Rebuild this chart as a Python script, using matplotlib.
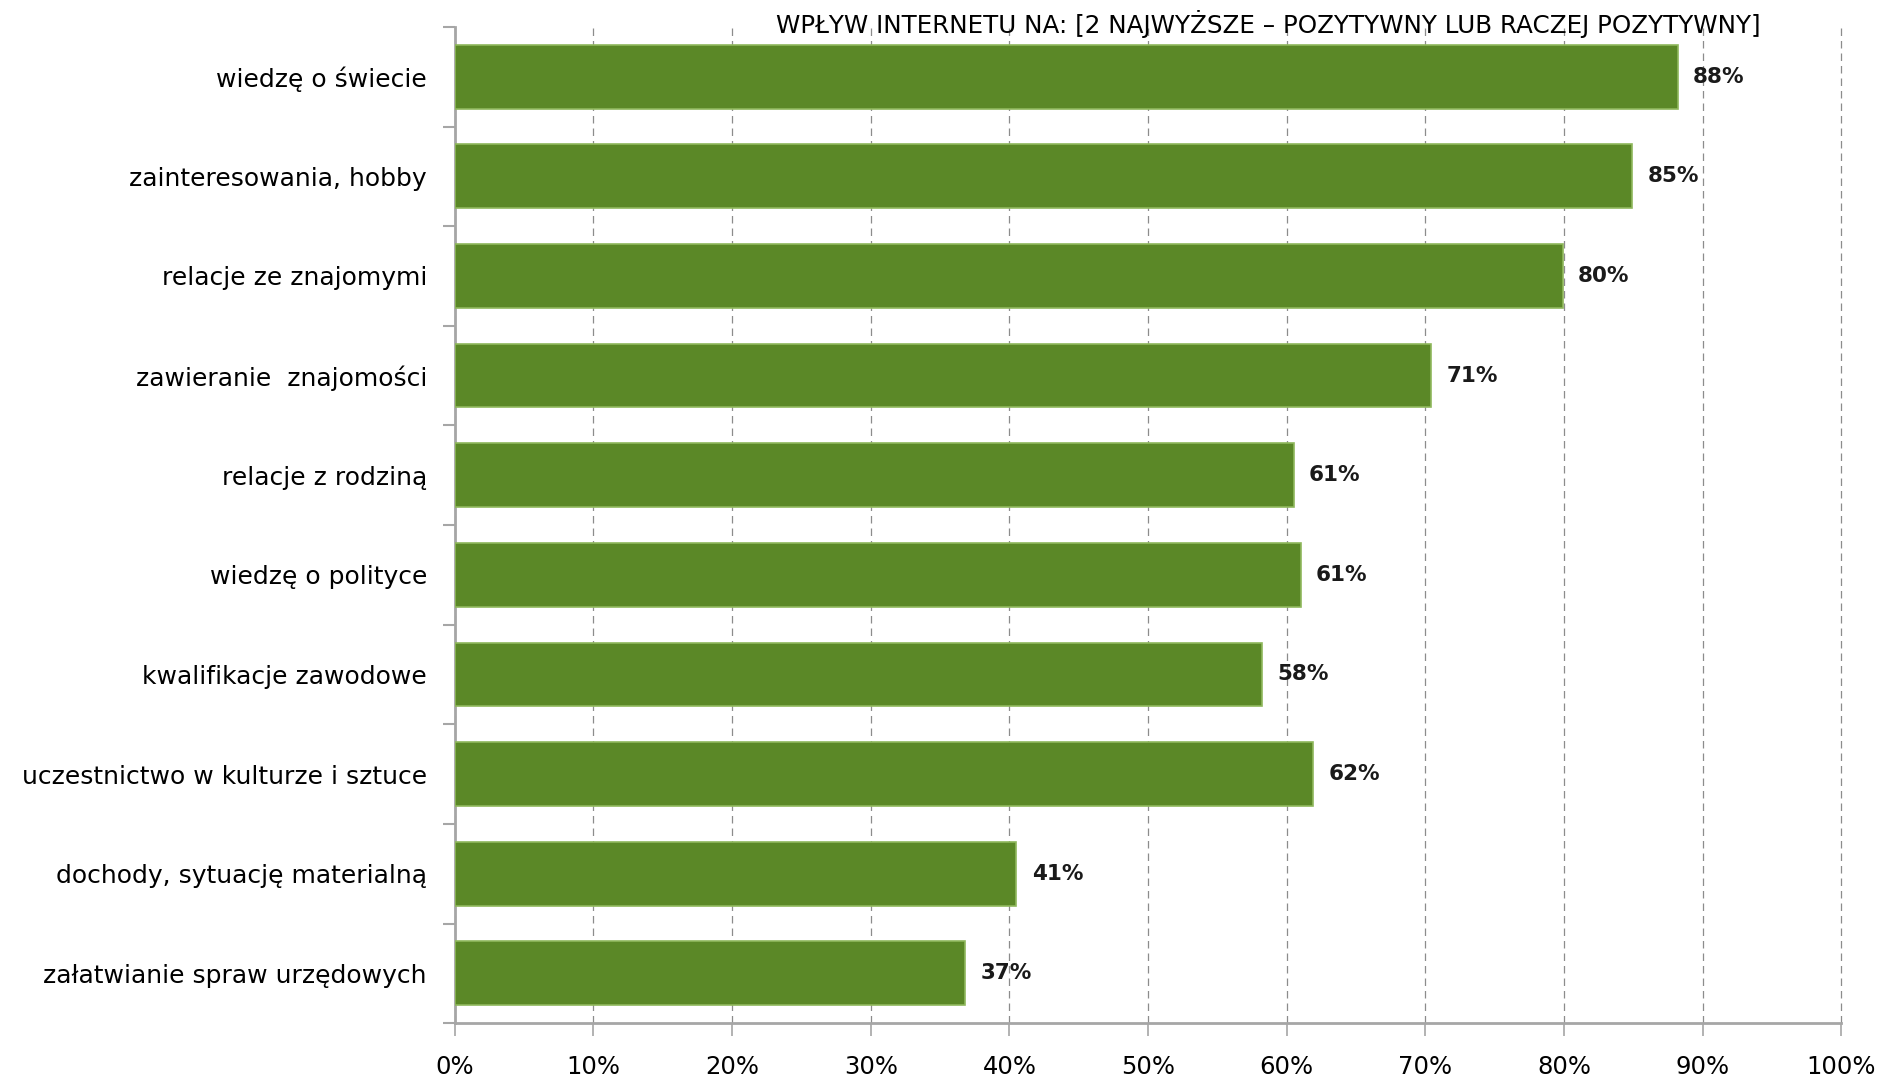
import matplotlib.pyplot as plt
import numpy as np
from matplotlib.ticker import FixedLocator, PercentFormatter

categories = ['wiedzę o świecie', 'zainteresowania, hobby', 'relacje ze znajomymi',
              'zawieranie  znajomości', 'relacje z rodziną', 'wiedzę o polityce',
              'kwalifikacje zawodowe', 'uczestnictwo w kulturze i sztuce',
              'dochody, sytuację materialną', 'załatwianie spraw urzędowych']
values = [88.2, 84.9, 79.9, 70.4, 60.5, 61.0, 58.2, 61.9, 40.5, 36.8]
labels = ['88%', '85%', '80%', '71%', '61%', '61%', '58%', '62%', '41%', '37%']
title = 'WPŁYW INTERNETU NA: [2 NAJWYŻSZE – POZYTYWNY LUB RACZEJ POZYTYWNY]'

grey = '#a6a6a6'

fig = plt.figure(figsize=(18.79, 10.77), dpi=100)
ax = fig.add_axes([0.242, 0.050, 0.738, 0.925])

y = np.arange(len(categories))
ax.barh(y, values, height=0.64, color='#5b8827', edgecolor='#8fb85c', linewidth=1.2, zorder=3)

for yi, v, lab in zip(y, values, labels):
    ax.text(v + 1.1, yi, lab, va='center', ha='left', fontsize=15.5, fontweight='bold', color='#1a1a1a')

ax.set_xlim(0, 100)
ax.set_ylim(len(categories) - 0.5, -0.5)
ax.set_xticks(np.arange(0, 101, 10))
ax.xaxis.set_major_formatter(PercentFormatter(decimals=0))
ax.set_yticks(y)
ax.set_yticklabels(categories, fontsize=18)
ax.yaxis.set_minor_locator(FixedLocator(np.arange(-0.5, len(categories), 1)))
ax.tick_params(axis='y', which='major', length=0, pad=20)
ax.tick_params(axis='y', which='minor', length=9, color=grey, width=1.5, direction='out')
ax.tick_params(axis='x', length=9, color=grey, width=1.2, labelsize=17.5, pad=14)

ax.grid(axis='x', color='#8c8c8c', linestyle=(0, (6, 4)), linewidth=0.9, zorder=0)
for gl in ax.get_xgridlines():
    gl.set_clip_on(False)
for s in ['top', 'right']:
    ax.spines[s].set_visible(False)
for s in ['left', 'bottom']:
    ax.spines[s].set_color(grey)
    ax.spines[s].set_linewidth(2)

fig.text(0.413, 0.978, title, fontsize=17.7, ha='left', va='center')

fig.savefig('out.png', dpi=100)
